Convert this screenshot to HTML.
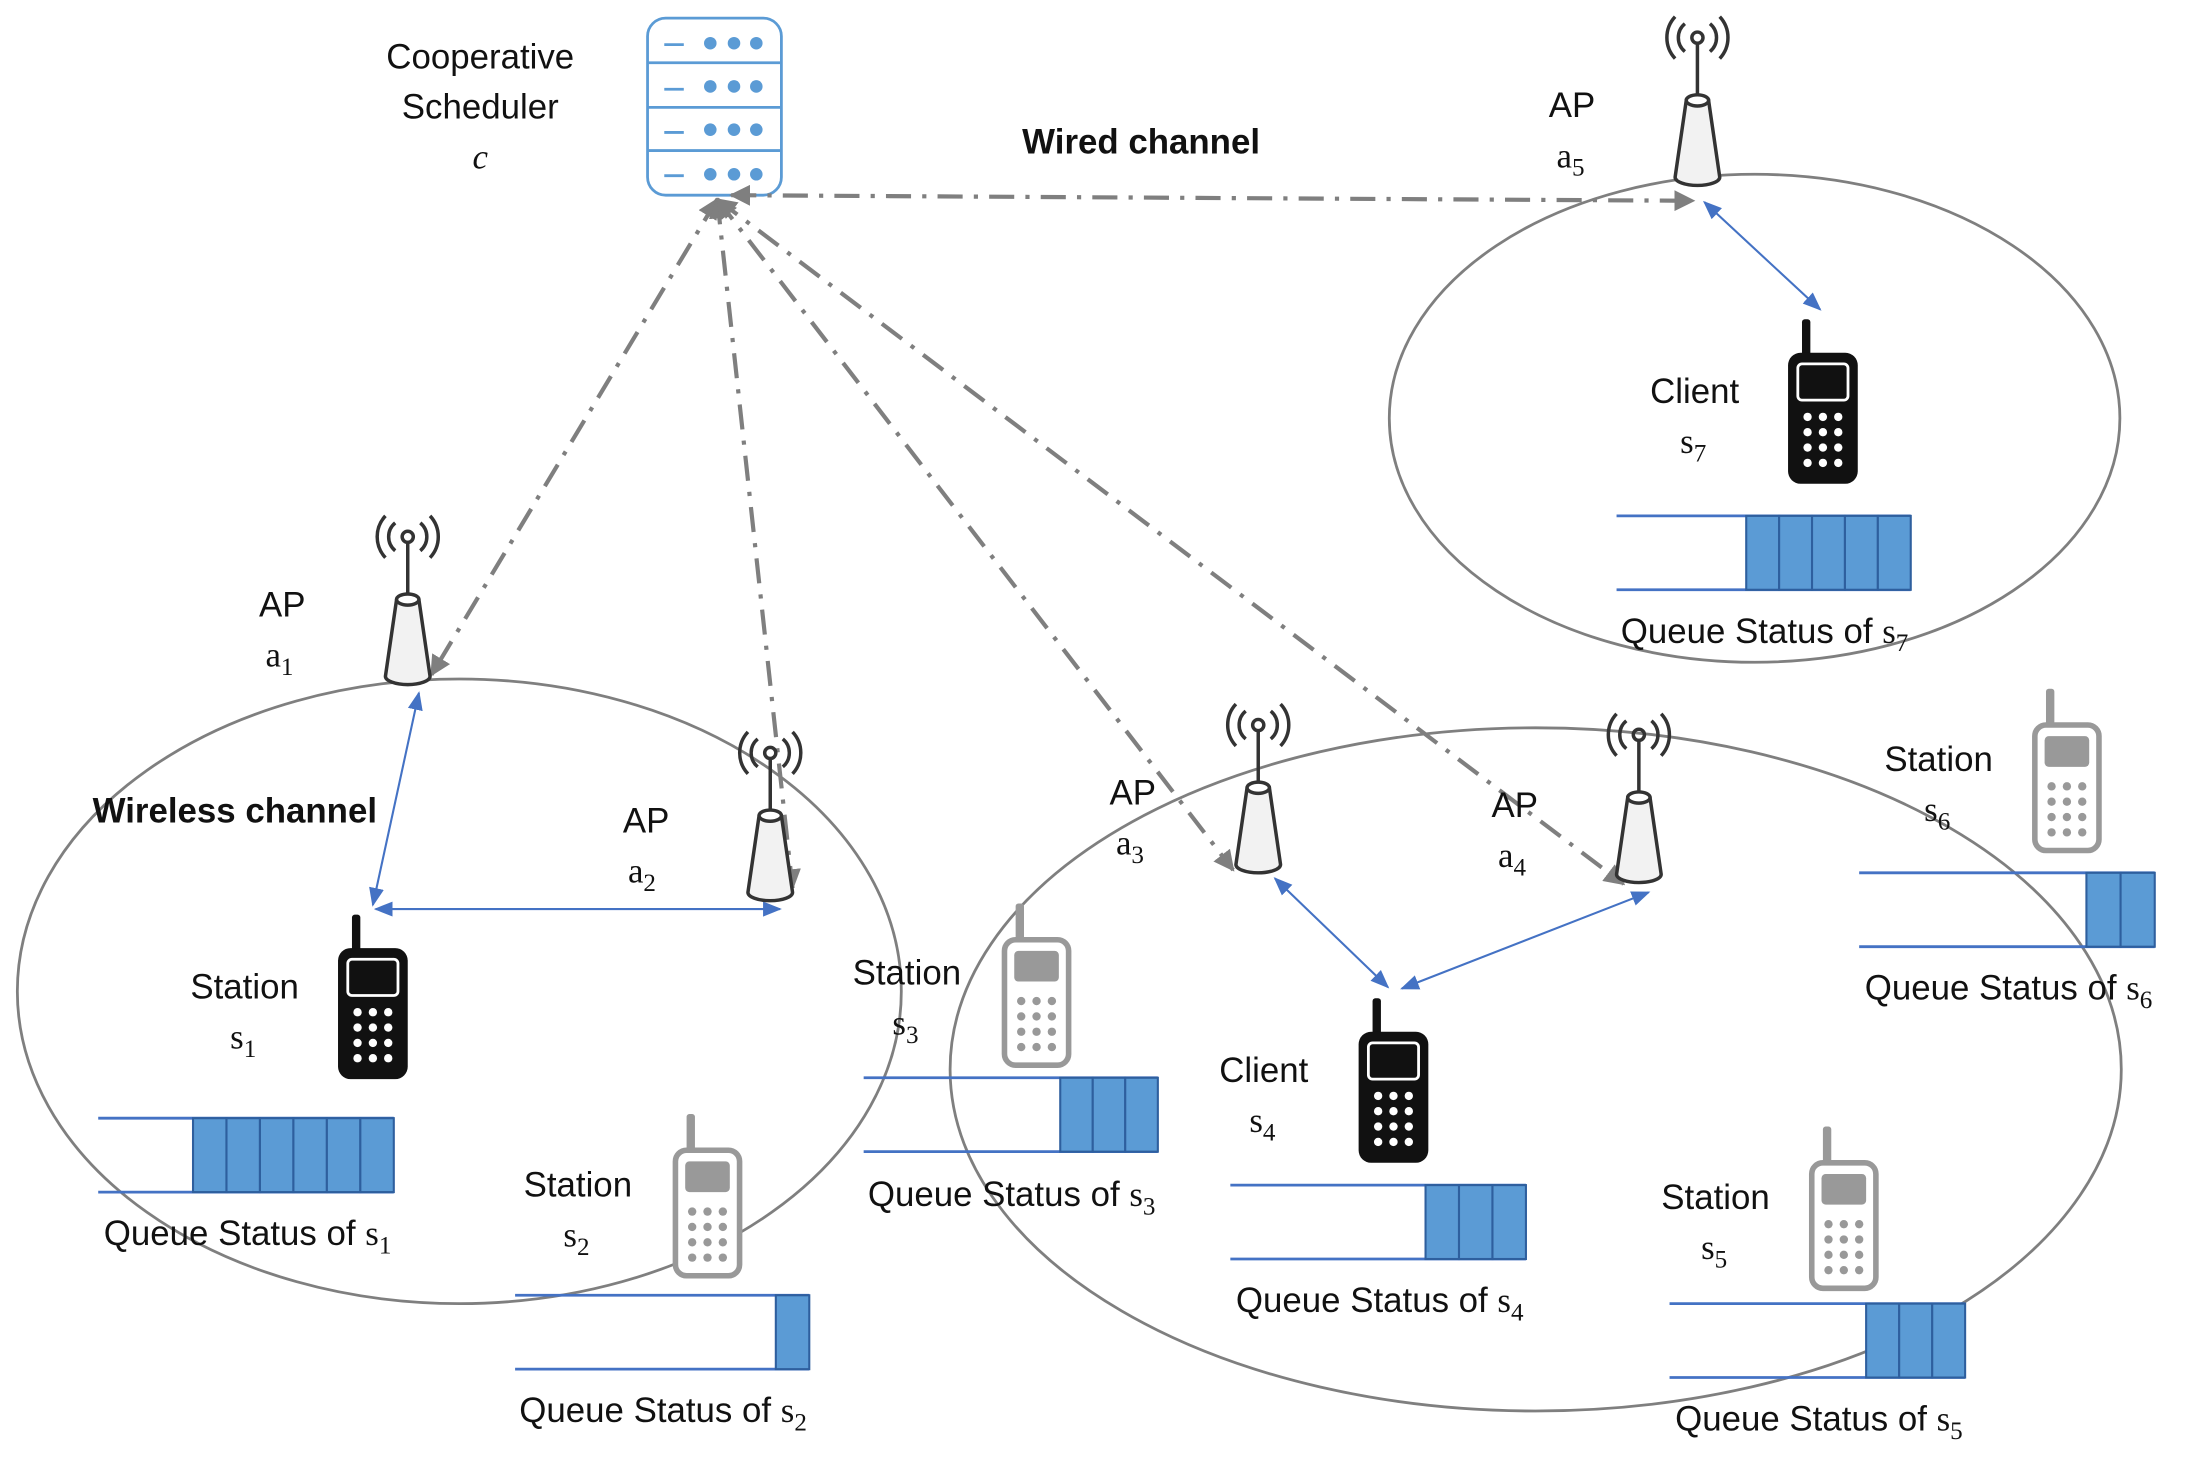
<!DOCTYPE html>
<html><head><style>html,body{margin:0;padding:0;background:#fff}svg{display:block}</style></head><body>
<svg width="2193" height="1457" viewBox="0 0 1568 1045" xmlns="http://www.w3.org/2000/svg" font-family="Liberation Sans, sans-serif">
<defs>
<marker id="ga" viewBox="0 0 10 10" refX="9" refY="5" markerWidth="5" markerHeight="5" orient="auto-start-reverse"><path d="M0,0L10,5L0,10z" fill="#7f7f7f"/></marker>
<marker id="ba" viewBox="0 0 10 10" refX="9" refY="5" markerWidth="9" markerHeight="9" orient="auto-start-reverse"><path d="M0,1L10,5L0,9z" fill="#4472c4"/></marker>
<g id="ap">
<path d="M-9,-10A13,13 0 0 0 -9,10M9,-10A13,13 0 0 1 9,10M-16,-15A22,22 0 0 0 -16,15M16,-15A22,22 0 0 1 16,15" fill="none" stroke="#333" stroke-width="2.5"/>
<circle r="4" fill="none" stroke="#333" stroke-width="2.5"/>
<line x1="0" y1="4" x2="0" y2="45" stroke="#333" stroke-width="2.5"/>
<path d="M-8,45L-16,100A16,6 0 0 0 16,100L8,45z" fill="#f2f2f2" stroke="#333" stroke-width="2.5"/>
<ellipse cx="0" cy="45" rx="8" ry="4" fill="#fff" stroke="#333" stroke-width="2.5"/>
</g>
<g id="pb">
<rect x="10" y="-24" width="6" height="28" rx="2" fill="#111"/>
<rect x="0" y="0" width="50" height="94" rx="9" fill="#111"/>
<rect x="7" y="8" width="36" height="26" rx="3" fill="#111" stroke="#fff" stroke-width="2"/>
<g fill="#fff"><circle cx="14" cy="46" r="3"/><circle cx="25" cy="46" r="3"/><circle cx="36" cy="46" r="3"/><circle cx="14" cy="57" r="3"/><circle cx="25" cy="57" r="3"/><circle cx="36" cy="57" r="3"/><circle cx="14" cy="68" r="3"/><circle cx="25" cy="68" r="3"/><circle cx="36" cy="68" r="3"/><circle cx="14" cy="79" r="3"/><circle cx="25" cy="79" r="3"/><circle cx="36" cy="79" r="3"/></g>
</g>
<g id="pg">
<rect x="10" y="-24" width="6" height="28" rx="2" fill="#999"/>
<rect x="2" y="2" width="46" height="90" rx="8" fill="#fff" stroke="#999" stroke-width="4"/>
<rect x="9" y="10" width="32" height="22" rx="3" fill="#999"/>
<g fill="#999"><circle cx="14" cy="46" r="3"/><circle cx="25" cy="46" r="3"/><circle cx="36" cy="46" r="3"/><circle cx="14" cy="57" r="3"/><circle cx="25" cy="57" r="3"/><circle cx="36" cy="57" r="3"/><circle cx="14" cy="68" r="3"/><circle cx="25" cy="68" r="3"/><circle cx="36" cy="68" r="3"/><circle cx="14" cy="79" r="3"/><circle cx="25" cy="79" r="3"/><circle cx="36" cy="79" r="3"/></g>
</g>
</defs>

<g fill="none" stroke="#7f7f7f" stroke-width="2">
<ellipse cx="327" cy="711" rx="317" ry="224"/>
<ellipse cx="1099" cy="767" rx="420" ry="245"/>
<ellipse cx="1256" cy="300" rx="262" ry="175"/>
</g>

<g stroke="#5b9bd5" stroke-width="2" fill="#fff">
<rect x="462" y="13" width="96" height="127" rx="13"/>
<line x1="462" y1="45" x2="558" y2="45"/><line x1="462" y1="77" x2="558" y2="77"/><line x1="462" y1="108" x2="558" y2="108"/>
<line x1="474" y1="32" x2="488" y2="32"/><line x1="474" y1="64" x2="488" y2="64"/><line x1="474" y1="95" x2="488" y2="95"/><line x1="474" y1="126" x2="488" y2="126"/>
</g>
<g fill="#5b9bd5">
<circle cx="507" cy="31" r="4.5"/><circle cx="524" cy="31" r="4.5"/><circle cx="540" cy="31" r="4.5"/>
<circle cx="507" cy="62" r="4.5"/><circle cx="524" cy="62" r="4.5"/><circle cx="540" cy="62" r="4.5"/>
<circle cx="507" cy="93" r="4.5"/><circle cx="524" cy="93" r="4.5"/><circle cx="540" cy="93" r="4.5"/>
<circle cx="507" cy="125" r="4.5"/><circle cx="524" cy="125" r="4.5"/><circle cx="540" cy="125" r="4.5"/>
</g>

<g stroke="#7f7f7f" stroke-width="3" fill="none" stroke-dasharray="18,8,3,8" marker-start="url(#ga)" marker-end="url(#ga)">
<line x1="512" y1="143" x2="307" y2="484"/>
<line x1="512" y1="143" x2="566" y2="637"/>
<line x1="512" y1="143" x2="882" y2="624"/>
<line x1="512" y1="143" x2="1162" y2="634"/>
<line x1="522" y1="140" x2="1212" y2="144"/>
</g>

<g stroke="#4472c4" stroke-width="1.5" marker-start="url(#ba)" marker-end="url(#ba)">
<line x1="298" y1="497" x2="265" y2="649"/>
<line x1="267" y1="652" x2="557" y2="652"/>
<line x1="912" y1="630" x2="993" y2="708"/>
<line x1="1003" y1="709" x2="1180" y2="640"/>
<line x1="1220" y1="145" x2="1303" y2="222"/>
</g>

<use href="#ap" x="290" y="385"/>
<use href="#ap" x="550" y="540"/>
<use href="#ap" x="900" y="520"/>
<use href="#ap" x="1173" y="527"/>
<use href="#ap" x="1215" y="27"/>

<use href="#pb" x="240" y="680"/>
<use href="#pb" x="1280" y="253"/>
<use href="#pb" x="972" y="740"/>
<use href="#pg" x="480" y="823"/>
<use href="#pg" x="716" y="672"/>
<use href="#pg" x="1455" y="518"/>
<use href="#pg" x="1295" y="832"/>

<g stroke="#4472c4" stroke-width="2">
<line x1="68" y1="802" x2="280" y2="802"/><line x1="68" y1="855" x2="280" y2="855"/>
<line x1="1157" y1="370" x2="1368" y2="370"/><line x1="1157" y1="423" x2="1368" y2="423"/>
<line x1="617" y1="773" x2="828" y2="773"/><line x1="617" y1="826" x2="828" y2="826"/>
<line x1="880" y1="850" x2="1092" y2="850"/><line x1="880" y1="903" x2="1092" y2="903"/>
<line x1="367" y1="929" x2="578" y2="929"/><line x1="367" y1="982" x2="578" y2="982"/>
<line x1="1331" y1="626" x2="1543" y2="626"/><line x1="1331" y1="679" x2="1543" y2="679"/>
<line x1="1195" y1="935" x2="1407" y2="935"/><line x1="1195" y1="988" x2="1407" y2="988"/>
</g>
<g fill="#5b9bd5" stroke="#2e5f9e" stroke-width="1.5">
<rect x="136" y="802" width="24" height="53"/><rect x="160" y="802" width="24" height="53"/><rect x="184" y="802" width="24" height="53"/><rect x="208" y="802" width="24" height="53"/><rect x="232" y="802" width="24" height="53"/><rect x="256" y="802" width="24" height="53"/>
<rect x="1250" y="370" width="23.6" height="53"/><rect x="1273.6" y="370" width="23.6" height="53"/><rect x="1297.2" y="370" width="23.6" height="53"/><rect x="1320.8" y="370" width="23.6" height="53"/><rect x="1344.4" y="370" width="23.6" height="53"/>
<rect x="758" y="773" width="23.3" height="53"/><rect x="781.3" y="773" width="23.3" height="53"/><rect x="804.6" y="773" width="23.4" height="53"/>
<rect x="1020" y="850" width="24" height="53"/><rect x="1044" y="850" width="24" height="53"/><rect x="1068" y="850" width="24" height="53"/>
<rect x="554" y="929" width="24" height="53"/>
<rect x="1494" y="626" width="24.5" height="53"/><rect x="1518.5" y="626" width="24.5" height="53"/>
<rect x="1336" y="935" width="23.7" height="53"/><rect x="1359.7" y="935" width="23.7" height="53"/><rect x="1383.4" y="935" width="23.6" height="53"/>
</g>

<g font-size="25" fill="#111">
<text x="342" y="49" text-anchor="middle">Cooperative</text>
<text x="342" y="85" text-anchor="middle">Scheduler</text>
<text x="342" y="121" text-anchor="middle" font-family="Liberation Serif, serif" font-style="italic">c</text>
<text x="816" y="110" text-anchor="middle" font-weight="bold">Wired channel</text>
<text x="166" y="590" text-anchor="middle" font-weight="bold">Wireless channel</text>
<text x="1125" y="84" text-anchor="middle">AP</text>
<text x="200" y="442" text-anchor="middle">AP</text>
<text x="461" y="597" text-anchor="middle">AP</text>
<text x="810" y="577" text-anchor="middle">AP</text>
<text x="1084" y="586" text-anchor="middle">AP</text>
<text x="1213" y="289" text-anchor="middle">Client</text>
<text x="904" y="776" text-anchor="middle">Client</text>
<text x="173" y="716" text-anchor="middle">Station</text>
<text x="412" y="858" text-anchor="middle">Station</text>
<text x="648" y="706" text-anchor="middle">Station</text>
<text x="1388" y="553" text-anchor="middle">Station</text>
<text x="1228" y="867" text-anchor="middle">Station</text>
<g font-family="Liberation Serif, serif">
<text x="1124" y="120" text-anchor="middle">a<tspan font-size="18" dy="6">5</tspan></text>
<text x="198" y="478" text-anchor="middle">a<tspan font-size="18" dy="6">1</tspan></text>
<text x="458" y="633" text-anchor="middle">a<tspan font-size="18" dy="6">2</tspan></text>
<text x="808" y="613" text-anchor="middle">a<tspan font-size="18" dy="6">3</tspan></text>
<text x="1082" y="622" text-anchor="middle">a<tspan font-size="18" dy="6">4</tspan></text>
<text x="1212" y="325" text-anchor="middle">s<tspan font-size="18" dy="6">7</tspan></text>
<text x="903" y="812" text-anchor="middle">s<tspan font-size="18" dy="6">4</tspan></text>
<text x="172" y="752" text-anchor="middle">s<tspan font-size="18" dy="6">1</tspan></text>
<text x="411" y="894" text-anchor="middle">s<tspan font-size="18" dy="6">2</tspan></text>
<text x="647" y="742" text-anchor="middle">s<tspan font-size="18" dy="6">3</tspan></text>
<text x="1387" y="589" text-anchor="middle">s<tspan font-size="18" dy="6">6</tspan></text>
<text x="1227" y="903" text-anchor="middle">s<tspan font-size="18" dy="6">5</tspan></text>
</g>
<text x="1160" y="461">Queue Status of <tspan font-family="Liberation Serif, serif">s</tspan><tspan font-family="Liberation Serif, serif" font-size="18" dy="6">7</tspan></text>
<text x="72" y="893">Queue Status of <tspan font-family="Liberation Serif, serif">s</tspan><tspan font-family="Liberation Serif, serif" font-size="18" dy="6">1</tspan></text>
<text x="620" y="865">Queue Status of <tspan font-family="Liberation Serif, serif">s</tspan><tspan font-family="Liberation Serif, serif" font-size="18" dy="6">3</tspan></text>
<text x="884" y="941">Queue Status of <tspan font-family="Liberation Serif, serif">s</tspan><tspan font-family="Liberation Serif, serif" font-size="18" dy="6">4</tspan></text>
<text x="370" y="1020">Queue Status of <tspan font-family="Liberation Serif, serif">s</tspan><tspan font-family="Liberation Serif, serif" font-size="18" dy="6">2</tspan></text>
<text x="1335" y="717">Queue Status of <tspan font-family="Liberation Serif, serif">s</tspan><tspan font-family="Liberation Serif, serif" font-size="18" dy="6">6</tspan></text>
<text x="1199" y="1026">Queue Status of <tspan font-family="Liberation Serif, serif">s</tspan><tspan font-family="Liberation Serif, serif" font-size="18" dy="6">5</tspan></text>
</g>
</svg>
</body></html>
